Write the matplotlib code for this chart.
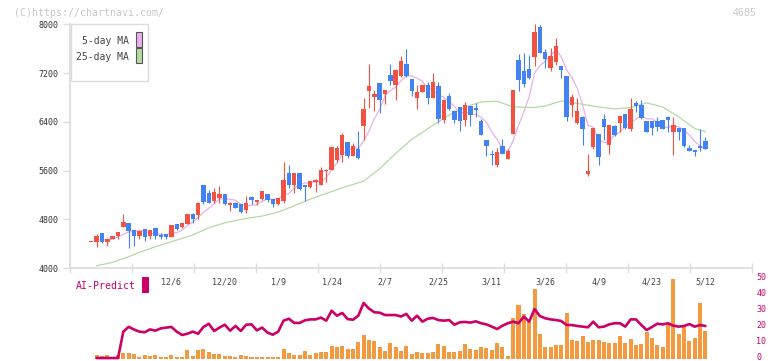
import numpy as np
import matplotlib
matplotlib.use("Agg")
import matplotlib.pyplot as plt
from matplotlib.patches import Rectangle
from matplotlib.transforms import ScaledTranslation

plt.rcParams['font.family'] = ['DejaVu Sans Mono']

# ---------------- data ----------------
opens = [4420,4431,4573,4431,4475,4524,4672,4737,4623,4530,4639,4530,4655,4535,4557,4513,4721,4672,4721,4885,
         4869,5360,5229,5103,5153,5213,5038,5065,5049,4951,5159,5082,5126,5213,5131,5049,5098,5557,5361,5557,
         5361,5333,5415,5361,5596,5601,5771,5853,6066,5836,5951,6328,6902,6803,7033,6852,7164,7000,7148,7344,
         7098,6787,6885,7000,6787,6984,6426,6820,6574,6639,6426,6656,6607,6410,6098,5874,5689,6000,5787,6197,
         7410,7230,7262,7459,7951,7541,7279,7377,7316,7147,6672,6377,6475,5546,5984,6197,6443,6016,6328,6377,
         6525,6279,6705,6672,6410,6410,6410,6426,6475,6229,6295,6295,5967,5934,6000,6082]
highs = [4420,4557,4580,4486,4530,4595,4885,4740,4625,4610,4640,4625,4655,4573,4557,4705,4721,4740,4885,4907,
         5087,5360,5278,5311,5344,5213,5087,5087,5049,5185,5186,5112,5265,5215,5131,5150,5738,5689,5557,5557,
         5361,5426,5465,5656,5623,5984,6000,6213,6066,6049,6246,6787,7344,6918,7033,6918,7344,7262,7475,7590,
         7098,7000,7000,7049,7197,7049,6754,6869,6590,6639,6721,6656,6705,6443,6098,5930,5967,6115,5951,6918,
         7508,7524,7492,8000,7984,7590,7606,7770,7320,7147,6852,6787,6492,5869,6295,6197,6525,6344,6344,6492,
         6525,6787,6738,6754,6410,6410,6475,6426,6492,6475,6295,6295,6016,5934,6279,6147]
lows = [4420,4349,4415,4366,4470,4470,4672,4333,4366,4481,4448,4481,4481,4481,4481,4513,4623,4655,4721,4737,
        4803,5054,5065,5071,5071,5032,4934,4979,4896,4901,5049,5038,5120,5082,5006,5038,5071,5312,5230,5279,
        5098,5312,5246,5361,5415,5601,5738,5738,5803,5836,5787,6098,6623,6574,6541,6689,7000,6754,7131,7131,
        6820,6607,6885,6688,6787,6377,6377,6590,6377,6246,6328,6328,6475,6180,5841,5689,5656,5869,5787,6197,
        6902,6967,7098,7311,7524,7279,7230,7328,7119,6414,6481,6361,6016,5508,5951,5689,6098,5869,6164,6229,
        6279,6246,6557,6443,6229,6180,6246,6279,6229,5852,6098,5984,5918,5836,5918,5951]
closes = [4420,4524,4431,4475,4524,4590,4754,4612,4530,4606,4513,4623,4530,4513,4513,4705,4639,4737,4885,4803,
          5065,5087,5065,5246,5213,5049,5065,4990,4923,5065,5109,5109,5262,5115,5044,5148,5443,5361,5557,5295,
          5333,5426,5443,5607,5612,5984,5967,6180,5836,6000,5803,6607,6984,6852,6754,6918,7066,7246,7393,7147,
          6902,6885,7000,6787,7049,6443,6754,6607,6426,6410,6672,6508,6600,6180,6000,5852,5902,5869,5918,6918,
          7082,7016,7115,7869,7524,7426,7475,7639,7251,6480,6803,6574,6279,5590,6295,5820,6311,6344,6180,6492,
          6295,6606,6656,6459,6229,6295,6311,6279,6426,6344,6229,6000,5918,5902,5967,5951]

# 25-day moving average (candle index, price)
ma25_idx = [1,4,7,9,12,16,19,22,25,29,32,35,38,41,44,47,51,54,57,60,64,67,70,73,76,79,83,85,88,91,95,98,101,104,107,110,113,115]
ma25_val = [4037,4093,4185,4257,4349,4459,4541,4661,4742,4815,4852,4918,5021,5131,5224,5316,5426,5630,5880,6110,
            6344,6510,6640,6726,6737,6644,6634,6660,6740,6700,6644,6611,6634,6710,6644,6480,6290,6234]

volume = [0,2.5,1.9,2.5,1.0,2.5,3.7,3.7,3.1,1.2,2.5,1.9,2.5,1.2,1.2,2.5,1.2,1.2,5.6,1.9,
          5.6,6.2,4.3,3.1,3.1,1.9,1.9,1.2,2.5,1.9,1.2,1.2,1.2,1.2,1.2,1.2,6.2,3.7,2.5,2.5,
          5.0,2.5,3.7,4.3,4.3,8.1,7.5,8.1,6.2,6.2,10.6,14.9,11.8,11.2,7.5,5.0,9.9,7.5,5.0,8.1,
          3.1,4.6,3.9,3.9,4.6,9.3,8.1,4.6,4.6,5.2,9.3,6.2,5.6,7.5,6.8,5.6,9.9,7.5,1.9,25.5,
          33.5,28,23,43.5,15.5,7.5,7.5,8.7,8.7,28.6,11.8,11.2,14.3,10.6,11.8,11.8,10.6,9.9,9.9,14.3,
          9.9,12.4,8.7,9.3,16.8,13,8.7,7.5,21,49.7,15.5,20.5,11.2,13,34.8,17.4]

ai_predict = [0.6,0.6,0.6,0.6,0.6,17,20,18.3,17,16.6,18.4,17.6,19,19.5,19.9,17,14.9,15.7,17,15.7,
              19.9,21.9,17.4,19.5,21.3,17.6,20.5,17.4,21.3,21.5,17.8,19.5,16.4,15.1,17,23.8,25,22.4,22.4,24,
              24.6,24.6,25.7,23.8,30,26.9,28.6,24.8,24.4,26.9,34.8,31.3,29,28.8,27.3,27.3,27.3,26.4,28,23.8,
              26.9,23.2,25,25.5,24.2,23.8,24.2,21.3,22.8,23,22.6,23.4,22.2,21.5,20.1,18.6,20.7,22.2,23.2,22.2,
              26.3,23.2,31,26.7,25.3,24.6,24.2,23.6,21.1,21.1,20.5,20.1,19.7,23.2,19.7,20.1,21.5,22.2,22.2,20.1,
              24.6,24.6,21.1,18,19.9,21.9,21.5,22.2,20.7,20.1,20.5,21.7,20.1,21.1,20.5]

date_labels = ["12/6", "12/20", "1/9", "1/24", "2/7", "2/25", "3/11", "3/26", "4/9", "4/23", "5/12"]
date_label_idx = [15, 25, 35, 45, 55, 65, 75, 85, 95, 105, 115]
price_ticks = [4000, 4800, 5600, 6400, 7200, 8000]
ai_ticks = [0, 10, 20, 30, 40, 50]

# ---------------- layout ----------------
W, H = 772, 361
fig = plt.figure(figsize=(W / 100, H / 100), dpi=100)
fig.patch.set_facecolor('white')

def fx(px):
    return px / W

def fy(py):
    return 1 - py / H

x0_px, x1_px = 70, 752
first_px, step_px = 91.3, 5.34
xmin = (x0_px - first_px) / step_px
xmax = (x1_px - first_px) / step_px

RED = '#f25241'
BLUE = '#4282f2'
GRID = '#dddddd'
MAG = '#cc0066'

# ---------------- lower panel (drawn first, transparent) ----------------
ax2 = fig.add_axes([fx(x0_px), fy(359), fx(x1_px - x0_px), (359 - 278.5) / H])
ax2.patch.set_alpha(0)
ax2.set_xlim(xmin, xmax)
ax2.set_ylim(0, 50)
for s in ax2.spines.values():
    s.set_visible(False)
ax2.bar(np.arange(len(volume)), volume, width=0.75, color='#f39a40', lw=0, zorder=2)
ax2.plot(np.arange(1, len(volume)), ai_predict, color=MAG, lw=1.9, solid_joinstyle='round',
         solid_capstyle='round', zorder=3, clip_on=False)
ax2.set_xticks([])
ax2.yaxis.tick_right()
ax2.set_yticks(ai_ticks)
ax2.set_yticklabels([str(v) for v in ai_ticks])
ax2.tick_params(axis='y', length=0, pad=3, labelsize=6, labelcolor=MAG)
lift = ScaledTranslation(0, 2.2 / 100, fig.dpi_scale_trans)
for lab in ax2.get_yticklabels():
    lab.set_transform(lab.get_transform() + lift)

# ---------------- main panel ----------------
ax = fig.add_axes([fx(x0_px), fy(268), fx(x1_px - x0_px), (268 - 24.3) / H])
ax.patch.set_alpha(0)
ax.set_xlim(xmin, xmax)
ax.set_ylim(4000, 8000)
for s in ['top', 'right']:
    ax.spines[s].set_visible(False)
for s in ['left', 'bottom']:
    ax.spines[s].set_color(GRID)
    ax.spines[s].set_linewidth(1.3)

n = len(closes)
idx = np.arange(n)
closes_arr = np.array(closes, dtype=float)

# moving averages
ma5 = np.array([closes_arr[max(0, k - 4):k + 1].mean() for k in range(n)])
ax.plot(idx[1:], ma5[1:], color='#e6b2ea', lw=0.9, zorder=2)
ax.plot(ma25_idx, ma25_val, color='#b4daa4', lw=0.9, zorder=2)

# candles
for i in range(n):
    o, h, l, c = opens[i], highs[i], lows[i], closes[i]
    col = RED if c >= o else BLUE
    ax.vlines(i, l, h, color=col, lw=0.8, zorder=3)
    body = max(abs(c - o), 18)
    ax.bar(i, body, bottom=min(o, c), width=0.82, color=col, lw=0, zorder=4)

# ticks
ax.set_yticks(price_ticks)
ax.set_yticklabels([str(v) for v in price_ticks])
ax.tick_params(axis='y', direction='out', length=5, width=1.0, color=GRID,
               labelsize=6, labelcolor='#333333', pad=3.5)
ax.set_xticks(np.linspace(xmin, xmax, 12))
ax.set_xticklabels([])
ax.tick_params(axis='x', which='major', direction='inout', length=7, width=1.0, color=GRID)
ax.set_xticks(date_label_idx, minor=True)
ax.set_xticklabels(date_labels, minor=True)
ax.tick_params(axis='x', which='minor', length=0, pad=7, labelsize=6, labelcolor='#444444')

# legend box
fig.add_artist(Rectangle((fx(70.7), fy(81)), fx(148.3 - 70.7), (81 - 24.3) / H,
                         transform=fig.transFigure, facecolor='white', edgecolor=GRID, lw=1.0, zorder=5))
fig.text(fx(129), fy(41.3), "5-day MA", ha='right', va='center', fontsize=7, color='#444444', zorder=6)
fig.text(fx(129), fy(57.3), "25-day MA", ha='right', va='center', fontsize=7, color='#444444', zorder=6)
fig.add_artist(Rectangle((fx(136.3), fy(46.7)), fx(6), 15 / H, transform=fig.transFigure,
                         facecolor='#e6b2ea', edgecolor='#555555', lw=0.8, zorder=6))
fig.add_artist(Rectangle((fx(136.3), fy(63.3)), fx(6), 15 / H, transform=fig.transFigure,
                         facecolor='#b4daa4', edgecolor='#555555', lw=0.8, zorder=6))

# watermark texts
fig.text(fx(14), fy(12.5), "(C)https://chartnavi.com/", ha='left', va='center', fontsize=7.1, color='#c8c8c8')
fig.text(fx(757), fy(12.5), "4685", ha='right', va='center', fontsize=7.1, color='#c8c8c8')

fig.text(fx(76), fy(286), "AI-Predict", ha='left', va='center', fontsize=7.1, color=MAG)
fig.add_artist(Rectangle((fx(142.3), fy(292.7)), fx(6.3), 16 / H, transform=fig.transFigure,
                         facecolor=MAG, edgecolor='none'))

fig.savefig('out.png', dpi=100)
